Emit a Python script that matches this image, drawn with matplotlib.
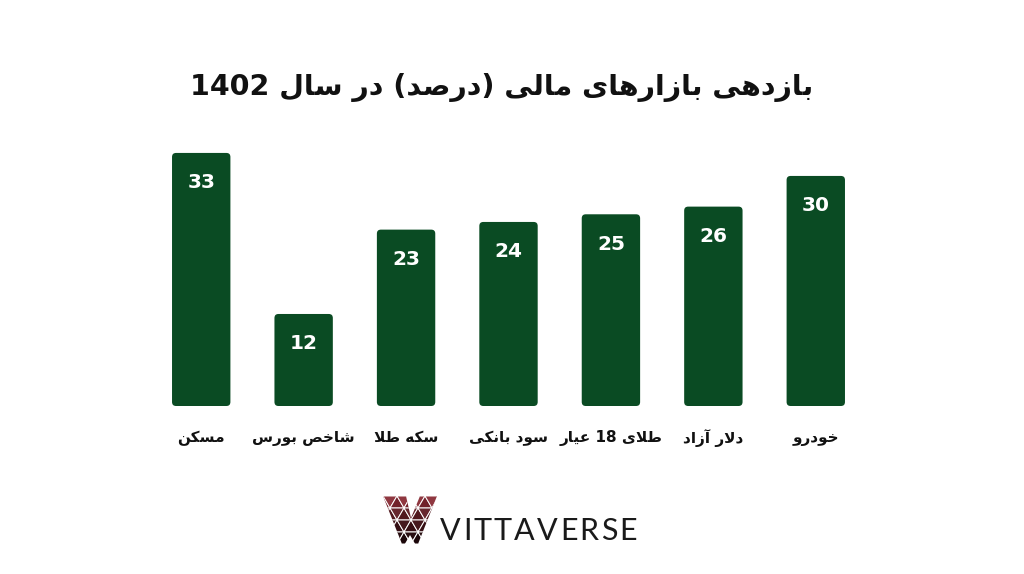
import matplotlib
matplotlib.use("Agg")
import matplotlib.pyplot as plt
import matplotlib.colors as mcolors
from matplotlib.patches import FancyBboxPatch, Polygon
import re

# ---------------- data ----------------
categories = ["مسکن", "شاخص بورس", "سکه طلا", "سود بانکی", "طلای 18 عیار", "دلار آزاد", "خودرو"]
values = [33, 12, 23, 24, 25, 26, 30]
title_text = "بازدهی بازارهای مالی (درصد) در سال 1402"
brand_text = "VITTAVERSE"

# ---------------- minimal Arabic/Persian shaping ----------------
FORMS = {  # isolated, final, initial, medial
    "ا": (0xFE8D, 0xFE8E, None, None),
    "آ": (0xFE81, 0xFE82, None, None),
    "ب": (0xFE8F, 0xFE90, 0xFE91, 0xFE92),
    "خ": (0xFEA5, 0xFEA6, 0xFEA7, 0xFEA8),
    "د": (0xFEA9, 0xFEAA, None, None),
    "ر": (0xFEAD, 0xFEAE, None, None),
    "ز": (0xFEAF, 0xFEB0, None, None),
    "س": (0xFEB1, 0xFEB2, 0xFEB3, 0xFEB4),
    "ش": (0xFEB5, 0xFEB6, 0xFEB7, 0xFEB8),
    "ص": (0xFEB9, 0xFEBA, 0xFEBB, 0xFEBC),
    "ط": (0xFEC1, 0xFEC2, 0xFEC3, 0xFEC4),
    "ع": (0xFEC9, 0xFECA, 0xFECB, 0xFECC),
    "ل": (0xFEDD, 0xFEDE, 0xFEDF, 0xFEE0),
    "م": (0xFEE1, 0xFEE2, 0xFEE3, 0xFEE4),
    "ن": (0xFEE5, 0xFEE6, 0xFEE7, 0xFEE8),
    "ه": (0xFEE9, 0xFEEA, 0xFEEB, 0xFEEC),
    "و": (0xFEED, 0xFEEE, None, None),
    "ک": (0xFB8E, 0xFB8F, 0xFB90, 0xFB91),
    "ی": (0xFBFC, 0xFBFD, 0xFBFE, 0xFBFF),
}


def dual(c):
    return c in FORMS and FORMS[c][2] is not None


def shape(s):
    out = []
    i = 0
    n = len(s)
    while i < n:
        c = s[i]
        if c not in FORMS:
            out.append(c)
            i += 1
            continue
        prev = s[i - 1] if i > 0 else ""
        pj = dual(prev)
        if c == "ل" and i + 1 < n and s[i + 1] == "ا":
            out.append(chr(0xFEFC if pj else 0xFEFB))
            i += 2
            continue
        nxt = s[i + 1] if i + 1 < n else ""
        nj = nxt in FORMS and dual(c)
        iso, fin, ini, med = FORMS[c]
        if pj and nj:
            out.append(chr(med))
        elif pj:
            out.append(chr(fin))
        elif nj:
            out.append(chr(ini))
        else:
            out.append(chr(iso))
        i += 1
    return "".join(out)


def rtl(s):
    shaped = shape(s)
    tokens = re.findall(r"[0-9]+|[^0-9]+", shaped)
    mirror = {"(": ")", ")": "("}
    vis = []
    for t in reversed(tokens):
        if t.isdigit():
            vis.append(t)
        else:
            vis.append("".join(mirror.get(ch, ch) for ch in reversed(t)))
    return "".join(vis)


# ---------------- figure ----------------
W, H = 1024, 574
fig = plt.figure(figsize=(W / 100, H / 100), dpi=100)
fig.patch.set_facecolor("white")

bar_color = "#0a4b23"
ax_left, ax_w = 150 / W, 717 / W
ax_bottom, ax_h = (H - 406) / H, 268.4 / H
ax = fig.add_axes([ax_left, ax_bottom, ax_w, ax_h])
ax.set_xlim(-0.5, len(values) - 0.5)
ax.set_ylim(0, 35)
ax.axis("off")

x = list(range(len(values)))
bars = ax.bar(x, values, width=0.57, color=bar_color)

# rounded corners
x_px_per_unit = ax_w * W / 7.0
y_px_per_unit = ax_h * H / 35.0
aspect = x_px_per_unit / y_px_per_unit
r = 4.0 / x_px_per_unit
for rect in bars:
    bx, by = rect.get_x(), rect.get_y()
    bw, bh = rect.get_width(), rect.get_height()
    rect.set_visible(False)
    p = FancyBboxPatch((bx, by), bw, bh,
                       boxstyle=f"round,pad=0,rounding_size={r}",
                       mutation_aspect=aspect,
                       facecolor=bar_color, edgecolor="none")
    ax.add_patch(p)

for xi, v in zip(x, values):
    ax.annotate(str(v), xy=(xi, v), xytext=(0, -30), textcoords="offset pixels",
                ha="center", va="center", color="white", fontsize=14.5,
                fontweight="bold", family="DejaVu Sans")

for xi, c in zip(x, categories):
    ax.annotate(rtl(c), xy=(xi, 0), xytext=(0, -32), textcoords="offset pixels",
                ha="center", va="center", color="#111111", fontsize=11,
                fontweight="bold", family="DejaVu Sans")

fig.text(502 / W, 1 - 88 / H, rtl(title_text), ha="center", va="center",
         fontsize=20.5, fontweight="bold", color="#111111", family="DejaVu Sans")

# ---------------- brand logo ----------------
lax = fig.add_axes([0, 0, 1, 1], zorder=-1)
lax.set_xlim(0, W)
lax.set_ylim(H, 0)
lax.axis("off")

v_outline = Polygon([(383, 496), (406, 496), (411, 518), (420, 496), (437, 496),
                     (418, 544), (402, 544)], closed=True, facecolor="none",
                    edgecolor="none", transform=lax.transData)
lax.add_patch(v_outline)

c_top = mcolors.to_rgb("#8e2a35")
c_bot = mcolors.to_rgb("#140507")
top, bot, rowh, tw = 496, 544, 12, 14
for j in range(4):
    y0, y1 = top + j * rowh, top + (j + 1) * rowh
    off = (j % 2) * (tw / 2) - tw
    for i in range(6):
        x0 = 376 + off + i * tw
        up = [(x0, y1), (x0 + tw, y1), (x0 + tw / 2, y0)]
        dn = [(x0 + tw / 2, y0), (x0 + tw * 1.5, y0), (x0 + tw, y1)]
        for k, t in enumerate((up, dn)):
            cy = sum(p[1] for p in t) / 3
            f = min(max((cy - top) / (bot - top), 0), 1) ** 0.8
            shade = 0.0 if k == 0 else 0.08
            col = tuple(min(1, a + (b - a) * f + shade * (1 - f)) for a, b in zip(c_top, c_bot))
            poly = Polygon(t, closed=True, facecolor=col, edgecolor="white", linewidth=0.7)
            lax.add_patch(poly)
            poly.set_clip_path(v_outline)
lax.add_patch(Polygon([(404.5, 544.5), (415.5, 544.5), (410, 535)], closed=True,
                      facecolor="white", edgecolor="none"))

# brand text with letter spacing
renderer = fig.canvas.get_renderer()
xpos = 440.0
for ch in brand_text:
    t = fig.text(xpos / W, 1 - 531 / H, ch, ha="left", va="center", fontsize=22,
                 color="#1a1a1a", family="Lato", fontweight="normal")
    bb = t.get_window_extent(renderer=renderer)
    xpos += bb.width + 2.2

fig.savefig("out.png", dpi=100, facecolor="white")
